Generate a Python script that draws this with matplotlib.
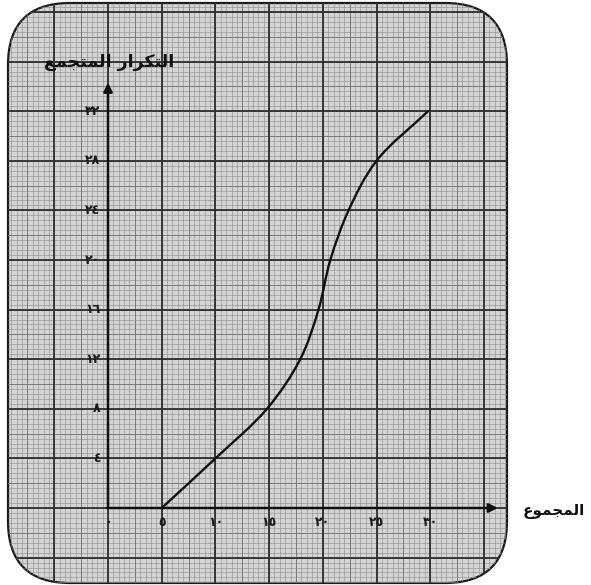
import numpy as np
import matplotlib
matplotlib.use("Agg")
import matplotlib.pyplot as plt
from matplotlib.patches import FancyBboxPatch, PathPatch
from matplotlib.path import Path
from matplotlib.collections import LineCollection

# ogive (cumulative frequency curve)
curve_x = [5, 10, 14.8, 17.9, 19.6, 20.7, 22.4, 25, 29.8]
curve_y = [0, 4, 8, 12, 16, 20, 24, 28, 32]

x_ticks = [0, 5, 10, 15, 20, 25, 30]
x_labels = ['٠', '٥', '١٠', '١٥', '٢٠', '٢٥', '٣٠']
y_ticks = [4, 8, 12, 16, 20, 24, 28, 32]
y_labels = ['٤', '٨', '١٢', '١٦', '٢٠', '٢٤', '٢٨', '٣٢']

# arabic titles, written with presentation forms in visual (left-to-right) order
y_title = '\uFECA\uFEE4\uFEA0\uFE98\uFEE4\uFEDF\uFE8D \uFEAD\uFE8D\uFEAE\uFEDC\uFE98\uFEDF\uFE8D'  # التكرار المتجمع
x_title = '\uFEC9\uFEEE\uFEE4\uFEA0\uFEE4\uFEDF\uFE8D'  # المجموع

# pixel scale of the paper: 5 units per big square across, 4 units up
sx, sy = 10.74, 12.4
ox, oy = 108, 508
W, H = 591, 585

fig = plt.figure(figsize=(W / 100, H / 100), dpi=100)
ax = fig.add_axes([0, 0, 1, 1])
ax.set_xlim(-ox / sx, (W - ox) / sx)
ax.set_ylim(-(H - oy) / sy, oy / sy)
ax.axis('off')

# rounded graph paper
x0, x1 = (8 - ox) / sx, (507 - ox) / sx
y0, y1 = (oy - 583) / sy, (oy - 3) / sy
paper = FancyBboxPatch((x0, y0), x1 - x0, y1 - y0,
                       boxstyle='round,pad=0,rounding_size=%.3f' % (62 / sx),
                       mutation_aspect=sx / sy,
                       fc='#d4d4d4', ec='#1a1a1a', lw=1.6, zorder=1)
ax.add_patch(paper)

def draw_grid(xs, ys, color, lw, z):
    segs = [[(x, y0), (x, y1)] for x in xs] + [[(x0, y), (x1, y)] for y in ys]
    lc = LineCollection(segs, colors=color, linewidths=lw, zorder=z)
    lc.set_clip_path(paper)
    ax.add_collection(lc)

# fine 1/10 lines, half lines, then the big squares
draw_grid(np.arange(-10, 38, 0.5), np.arange(-8, 42, 0.4), '#939393', 0.45, 2)
draw_grid(np.arange(-10, 38, 2.5), np.arange(-8, 42, 2), '#747474', 0.6, 2.1)
draw_grid(np.arange(-10, 40, 5), np.arange(-8, 44, 4), '#2e2e2e', 1.3, 2.2)

# axes with arrowheads
ax.annotate('', xy=(0, 34.3), xytext=(0, 0),
            arrowprops=dict(arrowstyle='-|>', lw=1.8, color='#111111',
                            mutation_scale=13, shrinkA=0, shrinkB=0), zorder=4)
ax.annotate('', xy=(36.3, 0), xytext=(-0.08, 0),
            arrowprops=dict(arrowstyle='-|>', lw=1.8, color='#111111',
                            mutation_scale=13, shrinkA=0, shrinkB=0), zorder=4)

# smooth curve through the points: centripetal Catmull-Rom, built in pixel
# space so the unequal x/y scales do not bend it, then turned into Beziers
P = np.column_stack([curve_x, curve_y]) * [sx, sy]
ext = np.vstack([2 * P[0] - P[1], P, 2 * P[-1] - P[-2]])
t = np.concatenate([[0], np.cumsum(np.linalg.norm(np.diff(ext, axis=0), axis=1) ** 0.5)])

def tangent(k):
    a, b, c = ext[k - 1], ext[k], ext[k + 1]
    ta, tb, tc = t[k - 1], t[k], t[k + 1]
    return (b - a) / (tb - ta) - (c - a) / (tc - ta) + (c - b) / (tc - tb)

verts = [P[0]]
codes = [Path.MOVETO]
for k in range(1, len(ext) - 2):
    p1, p2 = ext[k], ext[k + 1]
    dt = t[k + 1] - t[k]
    verts += [p1 + tangent(k) * dt / 3, p2 - tangent(k + 1) * dt / 3, p2]
    codes += [Path.CURVE4] * 3
verts = np.array(verts) / [sx, sy]
ax.add_patch(PathPatch(Path(verts, codes), fill=False, ec='#111111',
                       lw=1.7, capstyle='round', zorder=5))

# tick labels
for v, s in zip(y_ticks, y_labels):
    ax.text(-0.7, v, s, ha='right', va='center', fontsize=9,
            fontweight='bold', color='#1a1a1a', zorder=6)
for v, s in zip(x_ticks, x_labels):
    ax.text(v, -1.2, s, ha='center', va='center', fontsize=9,
            fontweight='bold', color='#1a1a1a', zorder=6)

ax.text(0.1, 36.0, y_title, ha='center', va='center', fontsize=12.5,
        fontweight='bold', color='#111111', zorder=6)
ax.text((523 - ox) / sx, -0.25, x_title, ha='left', va='center', fontsize=11,
        fontweight='bold', color='#111111', zorder=6)

fig.savefig('out.png', dpi=100, facecolor='white')
